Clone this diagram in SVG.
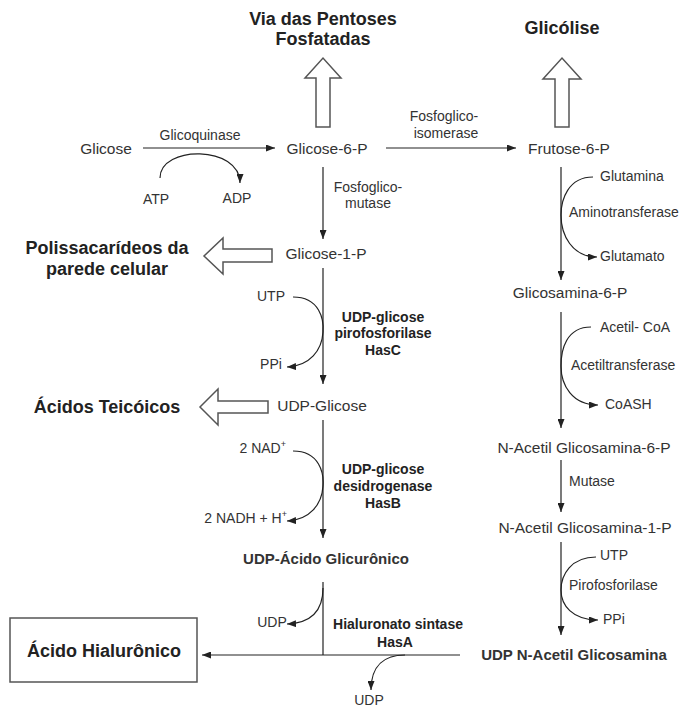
<svg xmlns="http://www.w3.org/2000/svg" width="682" height="711" viewBox="0 0 682 711">
<defs>
<marker id="ah" markerUnits="userSpaceOnUse" markerWidth="9" markerHeight="7" refX="9" refY="3.5" orient="auto">
<path d="M0,0 L9,3.5 L0,7 z" fill="#222"/>
</marker>
<style>
text{font-family:"Liberation Sans",Arial,sans-serif;fill:#333}
.c{font-size:15.5px;text-anchor:middle}
.s{font-size:14px}
.m{text-anchor:middle}
.b{font-weight:bold}
.t{font-size:18px;font-weight:bold;text-anchor:middle;fill:#222}
.e{font-size:14px;font-weight:bold;text-anchor:middle;fill:#222}
.ln{fill:none;stroke:#222;stroke-width:1.2}
.ar{marker-end:url(#ah)}
.ho{fill:#fff;stroke:#555;stroke-width:1.5}
</style>
</defs>
<rect width="682" height="711" fill="#fff"/>

<g id="connectors">
<path class="ln ar" d="M143,148 H275"/>
<path class="ln ar" d="M160,178 C160,145 240,145 240,183"/>
<path class="ln ar" d="M386,148 H516"/>
<path class="ln ar" d="M323,167 V239"/>
<path class="ln ar" d="M323,268 V384"/>
<path class="ln ar" d="M293,297 C320,297 324,320 323,332 C322,350 310,366 287,367"/>
<path class="ln ar" d="M323,420 V538"/>
<path class="ln ar" d="M293,451 C320,451 324,474 323,486 C322,504 310,520 287,521"/>
<path class="ln" d="M323,582 V655"/>
<path class="ln ar" d="M323,588 C323,610 312,623 287,624"/>
<path class="ln ar" d="M460,655 H202"/>
<path class="ln ar" d="M405,655 C385,655 371,665 371,690"/>
<path class="ln ar" d="M561,167 V280"/>
<path class="ln ar" d="M593,177 C568,177 561,200 561,215 C561,235 572,257 597,257"/>
<path class="ln ar" d="M561,312 V428"/>
<path class="ln ar" d="M591,327 C566,327 561,350 561,366 C561,385 572,405 598,405"/>
<path class="ln ar" d="M561,460 V512"/>
<path class="ln ar" d="M561,542 V635"/>
<path class="ln ar" d="M596,557 C571,557 561,575 561,590 C561,605 572,620 598,620"/>
<polygon class="ho" points="316,127 316,78 305,78 323,58 341,78 330,78 330,127"/>
<polygon class="ho" points="555,127 555,79 543,79 562,58 581,79 569,79 569,127"/>
<polygon class="ho" points="272,249 223,249 223,238 204,256 223,274 223,262 272,262"/>
<polygon class="ho" points="268,401 218,401 218,389 200,407 218,425 218,413 268,413"/>
</g>

<g id="via-pentoses"><text class="t" x="323" y="25">Via das Pentoses</text><text class="t" x="323" y="45">Fosfatadas</text></g>
<g id="glicolise"><text class="t" x="562" y="34">Glicólise</text></g>
<g id="glicose"><text class="c" x="106" y="154">Glicose</text></g>
<g id="glicoquinase"><text class="s m" x="200" y="140">Glicoquinase</text></g>
<g id="atp"><text class="s m" x="156" y="204">ATP</text></g>
<g id="adp"><text class="s m" x="237" y="203">ADP</text></g>
<g id="glicose-6-p"><text class="c" x="327" y="154">Glicose-6-P</text></g>
<g id="fosfoglicoisomerase"><text class="s m" x="444" y="121">Fosfoglico-</text><text class="s m" x="446" y="138">isomerase</text></g>
<g id="frutose-6-p"><text class="c" x="569" y="154">Frutose-6-P</text></g>
<g id="fosfoglicomutase"><text class="s m" x="368" y="192">Fosfoglico-</text><text class="s m" x="368" y="208">mutase</text></g>
<g id="glicose-1-p"><text class="c" x="326" y="259">Glicose-1-P</text></g>
<g id="polissacarideos"><text class="t" x="107" y="254">Polissacarídeos da</text><text class="t" x="107" y="275">parede celular</text></g>
<g id="utp1"><text class="s m" x="271" y="301">UTP</text></g>
<g id="ppi1"><text class="s m" x="271" y="369">PPi</text></g>
<g id="hasc"><text class="e" x="383" y="322">UDP-glicose</text><text class="e" x="383" y="338">pirofosforilase</text><text class="e" x="383" y="355">HasC</text></g>
<g id="udp-glicose"><text class="c" x="322" y="411">UDP-Glicose</text></g>
<g id="acidos-teicoicos"><text class="t" x="107" y="413">Ácidos Teicóicos</text></g>
<g id="nad"><text class="s" x="286" y="453" text-anchor="end">2 NAD<tspan font-size="9" dy="-6">+</tspan></text></g>
<g id="nadh"><text class="s" x="287" y="523" text-anchor="end">2 NADH + H<tspan font-size="9" dy="-6">+</tspan></text></g>
<g id="hasb"><text class="e" x="383" y="474">UDP-glicose</text><text class="e" x="383" y="491">desidrogenase</text><text class="e" x="383" y="508">HasB</text></g>
<g id="udp-acido-glicuronico"><text class="c b" x="326" y="564" style="font-size:15px">UDP-Ácido Glicurônico</text></g>
<g id="udp1"><text class="s m" x="272" y="627">UDP</text></g>
<g id="hasa"><text class="e" x="398" y="629">Hialuronato sintase</text><text class="e" x="395" y="647">HasA</text></g>
<g id="udp2"><text class="s m" x="369" y="705">UDP</text></g>
<g id="acido-hialuronico"><rect x="10" y="618" width="187" height="64" fill="#fff" stroke="#555" stroke-width="1.5"/><text class="t" x="104" y="657">Ácido Hialurônico</text></g>
<g id="glutamina"><text class="s" x="600" y="181">Glutamina</text></g>
<g id="aminotransferase"><text class="s" x="569" y="217">Aminotransferase</text></g>
<g id="glutamato"><text class="s" x="600" y="261">Glutamato</text></g>
<g id="glicosamina-6-p"><text class="c" x="570" y="298">Glicosamina-6-P</text></g>
<g id="acetil-coa"><text class="s" x="600" y="332">Acetil- CoA</text></g>
<g id="acetiltransferase"><text class="s" x="571" y="370">Acetiltransferase</text></g>
<g id="coash"><text class="s" x="605" y="409">CoASH</text></g>
<g id="nag-6-p"><text class="c" x="584" y="453">N-Acetil Glicosamina-6-P</text></g>
<g id="mutase"><text class="s" x="569" y="486">Mutase</text></g>
<g id="nag-1-p"><text class="c" x="585" y="533">N-Acetil Glicosamina-1-P</text></g>
<g id="utp2"><text class="s" x="600" y="560">UTP</text></g>
<g id="pirofosforilase"><text class="s" x="569" y="590">Pirofosforilase</text></g>
<g id="ppi2"><text class="s" x="603" y="624">PPi</text></g>
<g id="udp-nag"><text class="c b" x="574" y="660" style="font-size:15px">UDP N-Acetil Glicosamina</text></g>
</svg>
